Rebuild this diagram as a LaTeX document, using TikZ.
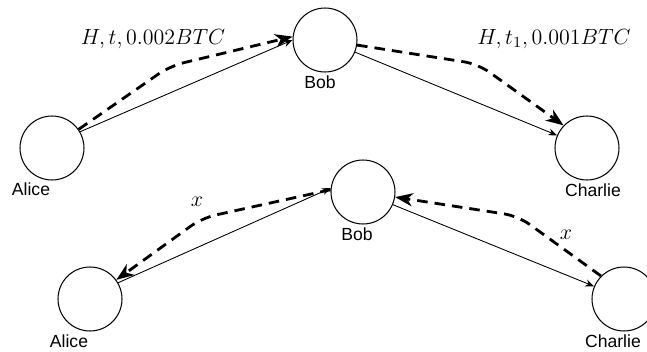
\documentclass[tikz,border=0pt]{standalone}
\usepackage{fix-cm}
\usepackage{amsmath}
\usepackage{fontspec}
\setsansfont{Liberation Sans}
\usetikzlibrary{positioning, arrows.meta}

\begin{document}
\begin{tikzpicture}[
  x=0.02cm, y=-0.02cm,
  party/.style={circle, draw, line width=0.6pt, minimum size=1.28cm, inner sep=0pt},
  tag/.style={font=\sffamily\fontsize{10}{12}\selectfont, inner sep=1pt},
  amount/.style={font=\fontsize{12.5}{15}\selectfont, inner sep=1pt},
  link/.style={-{Stealth[length=5pt, width=4pt]}, line width=0.5pt},
  lock/.style={-{Stealth[length=10pt, width=7.5pt, inset=3pt]}, line width=1.6pt,
    dash pattern=on 6pt off 4pt, rounded corners=8pt}
]
  \clip (0,0) rectangle (647,352);

  % Payment going out
  \node[party] (alice) at (52,148) {};
  \node[party] (bob) at (325,40) {};
  \node[party] (charlie) at (587,148) {};
  \node[tag] (alicetxt) at (31,189) {Alice};
  \node[tag] (bobtxt) at (320,82) {Bob};
  \node[tag] (charlietxt) at (593,190) {Charlie};

  \draw[link] (alice.30) -- (bob.west);
  \draw[lock] (alice.35) -- (170,66) -- (bob.174);
  \draw[link] (bob.-22) -- (charlie.157);
  \draw[lock] (bob.-9) -- (478,64) -- (charlie.136);

  \node[amount] (sendab) at (153,39) {$H, t, 0.002BTC$};
  \node[amount] (sendbc) at (554,39) {$H, t_1, 0.001BTC$};

  % Secret coming back
  \node[party] (alice2) at (90,299) {};
  \node[party] (bob2) at (363,192) {};
  \node[party] (charlie2) at (624,299) {};
  \node[tag] (alice2txt) at (69,341) {Alice};
  \node[tag] (bob2txt) at (357,234) {Bob};
  \node[tag] (charlie2txt) at (613,341) {Charlie};

  \draw[link] (alice2.30) -- (bob2.173);
  \draw[lock] (bob2.176) -- (202,218) -- (alice2.36);
  \draw[link] (bob2.-23) -- (charlie2.157);
  \draw[lock] (charlie2.135) -- (518,216) -- (bob2.-9);

  \node[amount] (revba) at (197,202) {$x$};
  \node[amount] (revcb) at (566,235) {$x$};
\end{tikzpicture}
\end{document}
